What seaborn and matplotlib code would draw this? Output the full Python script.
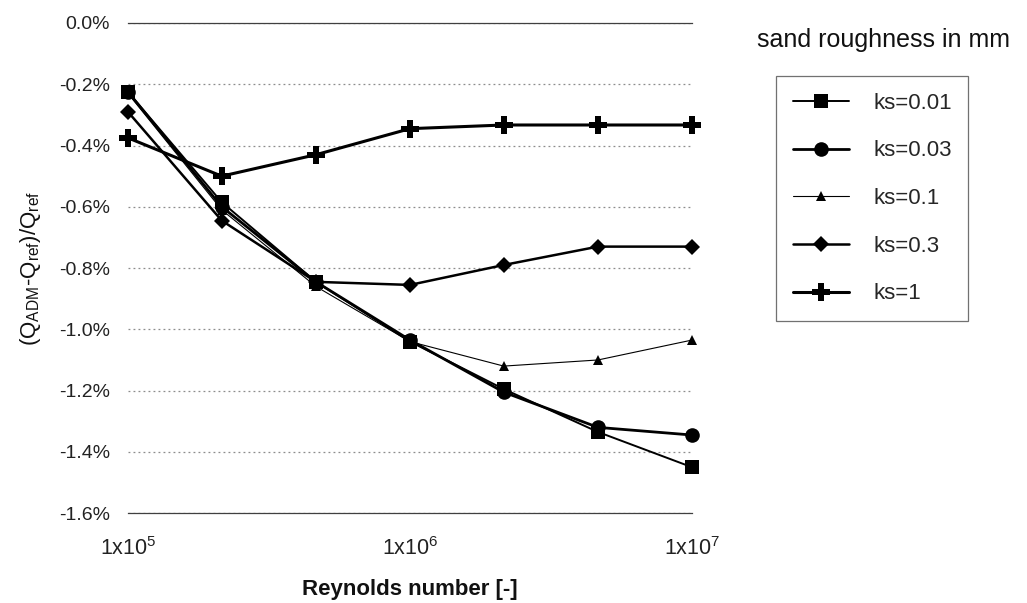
import matplotlib
matplotlib.use("Agg")
import matplotlib.pyplot as plt
import pandas as pd
import seaborn as sns
from matplotlib.ticker import PercentFormatter, FixedLocator, NullLocator

# Reynolds numbers (three per decade)
reynolds = [1e5, 2.15e5, 4.64e5, 1e6, 2.15e6, 4.64e6, 1e7]

# relative deviation in percent, one list per sand roughness
ks_001 = [-0.225, -0.585, -0.845, -1.04, -1.195, -1.335, -1.45]
ks_003 = [-0.225, -0.60, -0.845, -1.035, -1.205, -1.32, -1.345]
ks_01 = [-0.23, -0.61, -0.86, -1.04, -1.12, -1.10, -1.035]
ks_03 = [-0.29, -0.645, -0.845, -0.855, -0.79, -0.73, -0.73]
ks_1 = [-0.375, -0.50, -0.43, -0.345, -0.333, -0.333, -0.333]

series_labels = ["ks=0.01", "ks=0.03", "ks=0.1", "ks=0.3", "ks=1"]
y_ticks = [0.0, -0.2, -0.4, -0.6, -0.8, -1.0, -1.2, -1.4, -1.6]
x_ticks = [1e5, 1e6, 1e7]
x_ticklabels = ["1x10$^{5}$", "1x10$^{6}$", "1x10$^{7}$"]

rows = []
for lab, vals in zip(series_labels, [ks_001, ks_003, ks_01, ks_03, ks_1]):
    for re_, v in zip(reynolds, vals):
        rows.append([lab, re_, v])
df = pd.DataFrame(rows, columns=["ks", "Re", "dQ"])

sns.set_theme(style="white")
plt.rcParams["font.family"] = ["Liberation Sans", "DejaVu Sans"]
plt.rcParams["mathtext.fontset"] = "custom"
plt.rcParams["mathtext.rm"] = "Liberation Sans"
plt.rcParams["mathtext.it"] = "Liberation Sans:italic"
plt.rcParams["mathtext.bf"] = "Liberation Sans:bold"
plt.rcParams["axes.unicode_minus"] = False

fig = plt.figure(figsize=(10.27, 6.03), dpi=100)
ax = fig.add_axes([0.1246, 0.149, 0.5492, 0.8129])

# marker, markersize, linewidth per series
styles = {
    "ks=0.01": ("s", 10, 1.4),
    "ks=0.03": ("o", 10.5, 2.0),
    "ks=0.1": ("^", 7.5, 0.8),
    "ks=0.3": ("D", 8.5, 1.8),
    "ks=1": ("P", 13, 2.2),
}

for lab in series_labels:
    m, ms, lw = styles[lab]
    sns.lineplot(data=df[df["ks"] == lab], x="Re", y="dQ", color="black",
                 marker=m, markersize=ms, linewidth=lw, markeredgewidth=0,
                 label=lab, ax=ax, clip_on=False, zorder=3)

ax.set_xscale("log")
ax.set_xlim(1e5, 1e7)
ax.set_ylim(-1.6, 0.0)
ax.xaxis.set_major_locator(FixedLocator(x_ticks))
ax.xaxis.set_minor_locator(NullLocator())
ax.set_xticklabels(x_ticklabels)
ax.yaxis.set_major_locator(FixedLocator(y_ticks))
ax.yaxis.set_major_formatter(PercentFormatter(xmax=100, decimals=1))
ax.tick_params(axis="y", length=0, pad=13, labelsize=14, colors="#222222")
ax.tick_params(axis="x", length=0, pad=17, labelsize=15.5, colors="#222222")

ax.grid(axis="y", color="0.55", linestyle=(0, (1.5, 2.5)), linewidth=0.9)
ax.grid(axis="x", visible=False)
for side in ["left", "right"]:
    ax.spines[side].set_visible(False)
for side in ["top", "bottom"]:
    ax.spines[side].set_color("0.25")
    ax.spines[side].set_linewidth(0.9)

ax.set_xlabel("Reynolds number [-]", fontsize=16, fontweight="bold", color="#111111")
ax.xaxis.set_label_coords(0.5, -0.135)
ax.set_ylabel(r"(Q$_{\mathrm{ADM}}$-Q$_{\mathrm{ref}}$)/Q$_{\mathrm{ref}}$",
              fontsize=16, color="#111111")
ax.yaxis.set_label_coords(-0.151, 0.5)

handles, labels = ax.get_legend_handles_labels()
ax.legend_.remove()
leg = fig.legend(handles, labels, loc="upper left", bbox_to_anchor=(0.756, 0.874),
                 fontsize=16, frameon=True, fancybox=False, handlelength=2.5,
                 handletextpad=1.1, labelspacing=1.2, borderpad=0.75,
                 borderaxespad=0)
leg.get_frame().set_edgecolor("0.3")
leg.get_frame().set_linewidth(0.9)
fig.text(0.860, 0.934, "sand roughness in mm", fontsize=18, ha="center",
         va="center", color="#111111")

fig.savefig("out.png", dpi=100)
